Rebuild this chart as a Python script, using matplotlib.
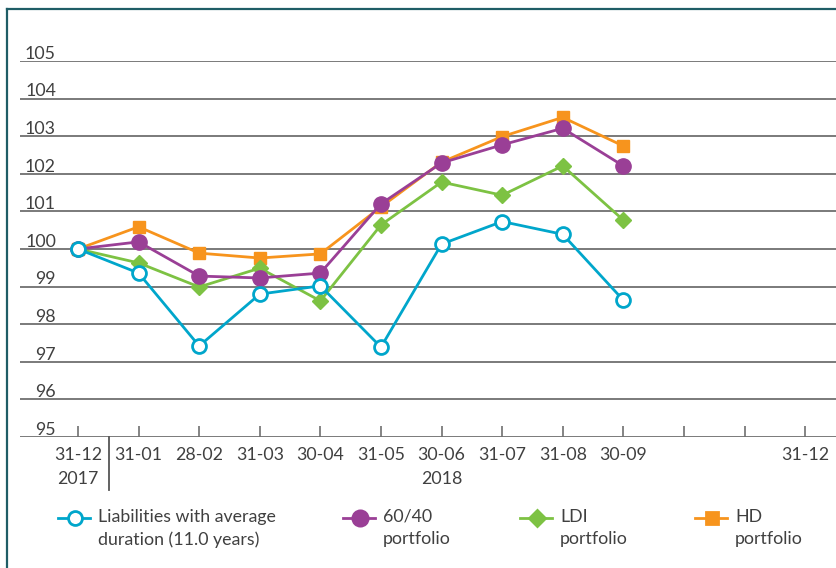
import matplotlib.pyplot as plt
from matplotlib.lines import Line2D
from matplotlib.transforms import blended_transform_factory

plt.rcParams['font.family'] = ['Lato', 'DejaVu Sans']

# data
dates = ["31-12\n2017", "31-01", "28-02", "31-03", "30-04", "31-05",
         "30-06\n2018", "31-07", "31-08", "30-09", "", "", "31-12"]
liabilities = [100.0, 99.36, 97.42, 98.80, 99.02, 97.39, 100.13, 100.73, 100.39, 98.64]
p6040 = [100.0, 100.19, 99.28, 99.23, 99.36, 101.20, 102.29, 102.77, 103.21, 102.21]
ldi = [100.0, 99.63, 98.99, 99.49, 98.62, 100.64, 101.78, 101.43, 102.21, 100.77]
hd = [100.0, 100.59, 99.89, 99.76, 99.87, 101.12, 102.31, 102.99, 103.50, 102.74]
yticks = list(range(95, 106))

c_liab = '#00A6CB'
c_6040 = '#9A3F96'
c_ldi = '#7DC243'
c_hd = '#F7941D'
grid_c = '#707070'
txt_c = '#404040'
W, H = 836, 568

fig = plt.figure(figsize=(W / 100, H / 100), dpi=100)
ax = fig.add_axes([20 / W, 1 - 437 / H, 816 / W, 376 / H])
ax.set_ylim(95, 105)
ax.set_xlim(-0.957, 12.51)
for s in ax.spines.values():
    s.set_visible(False)

for v in yticks:
    ax.axhline(v, color=grid_c, lw=1.3, zorder=1)
    ax.text(0.0441, v + 0.06, str(v), transform=blended_transform_factory(ax.transAxes, ax.transData),
            ha='right', va='baseline', fontsize=12.8, color=txt_c)
ax.set_yticks([])

x = list(range(len(liabilities)))
ax.plot(x, hd, color=c_hd, lw=2, marker='s', ms=8, zorder=3)
ax.plot(x, ldi, color=c_ldi, lw=2, marker='D', ms=8, zorder=4)
ax.plot(x, p6040, color=c_6040, lw=2, marker='o', ms=11, zorder=5)
ax.plot(x, liabilities, color=c_liab, lw=2, marker='o', ms=10, mfc='white', mew=2, zorder=6)

ax.set_xticks(range(len(dates)))
ax.set_xticklabels(dates, fontsize=12.8, color=txt_c)
for lbl in ax.get_xticklabels():
    lbl.set_linespacing(1.65)
ax.tick_params(axis='x', direction='in', length=8, width=1.2, color=grid_c, pad=7)

# separator between 2017 and 2018
trans = blended_transform_factory(ax.transData, ax.transAxes)
ax.plot([0.51, 0.51], [0, -0.141], transform=trans, clip_on=False, color='#555555', lw=1.3)

# outer frame
fy = 1 - 9 / H
fig.add_artist(Line2D([7 / W, 7 / W], [0, fy], transform=fig.transFigure, color='#1f5d66', lw=1.6))
fig.add_artist(Line2D([7 / W, 1], [fy, fy], transform=fig.transFigure, color='#1f5d66', lw=1.6))

# legend
entries = [
    (58, "Liabilities with average\nduration (11.0 years)", c_liab, 'o', 10, 'white'),
    (343, "60/40\nportfolio", c_6040, 'o', 11, c_6040),
    (520, "LDI\nportfolio", c_ldi, 'D', 8, c_ldi),
    (695, "HD\nportfolio", c_hd, 's', 8, c_hd),
]
ly = 1 - 518 / H
for x0, label, col, mk, ms, mfc in entries:
    fig.add_artist(Line2D([x0 / W, (x0 + 32) / W], [ly, ly], transform=fig.transFigure,
                          color=col, lw=2))
    fig.add_artist(Line2D([(x0 + 16.5) / W], [ly], transform=fig.transFigure, color=col,
                          marker=mk, ms=ms, mfc=mfc, mew=2))
    fig.text((x0 + 40) / W, 1 - 509 / H, label, ha='left', va='top', fontsize=12.8,
             color=txt_c, linespacing=1.45)

fig.savefig('out.png', dpi=100)
